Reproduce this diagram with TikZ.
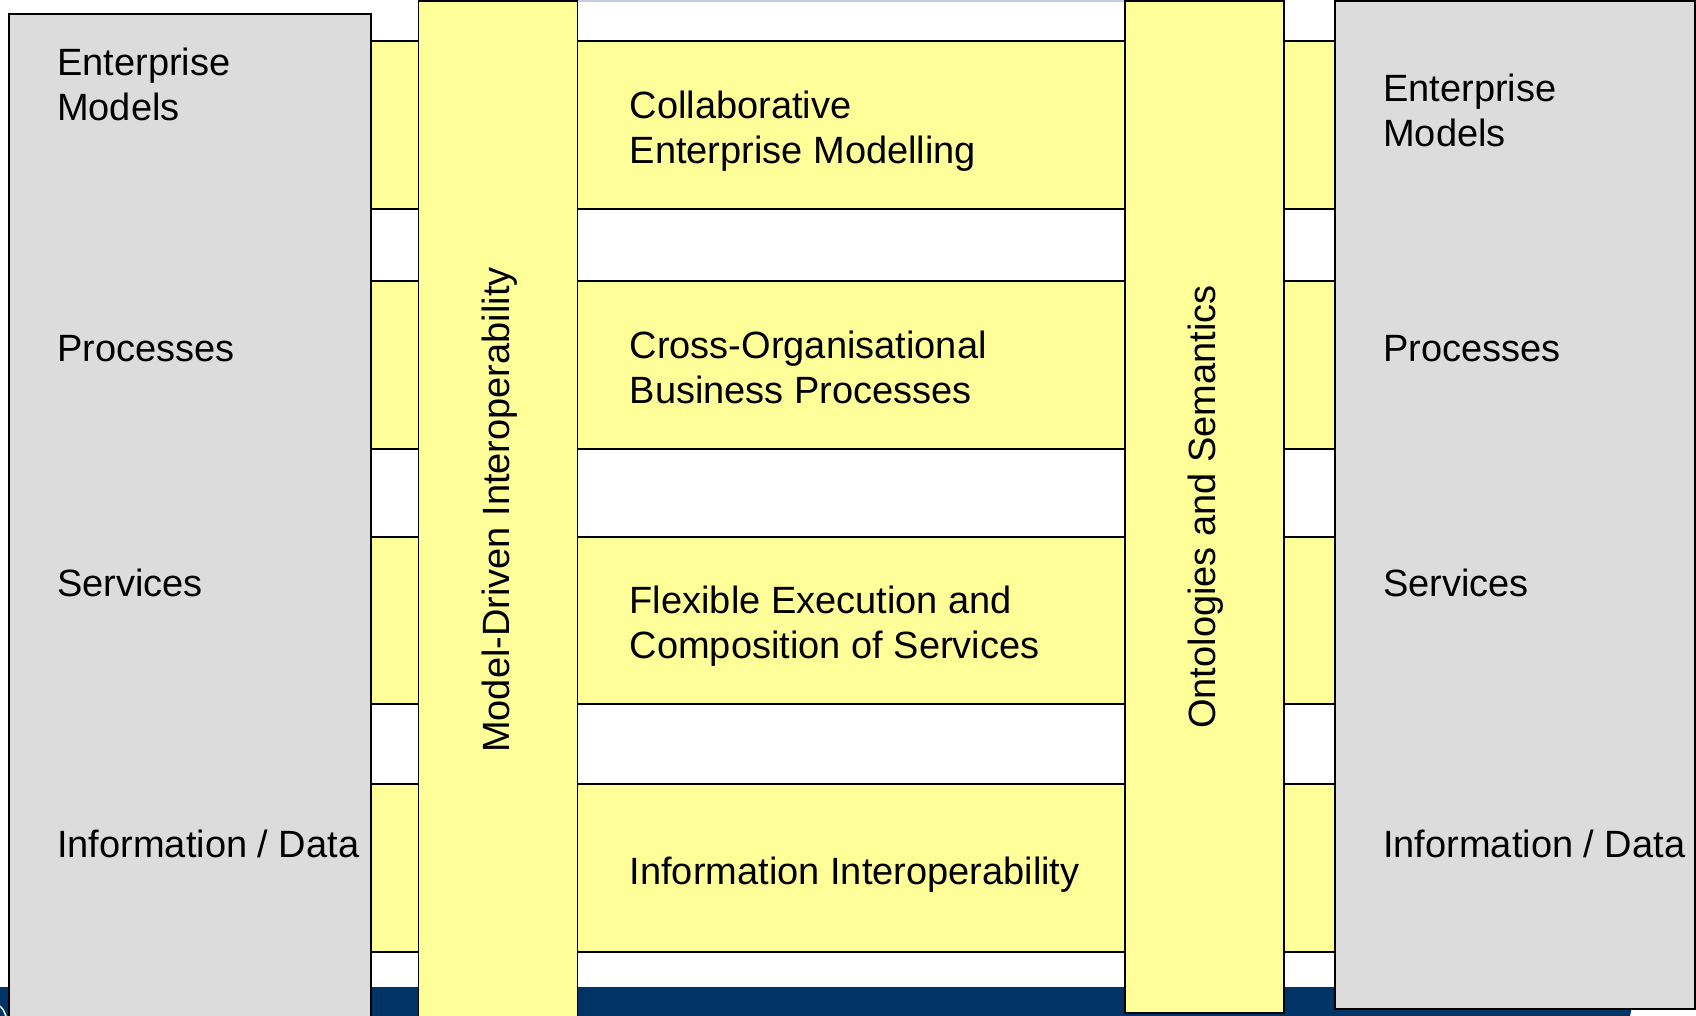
\documentclass[tikz,border=0pt]{standalone}
\usepackage{fontspec}
\setmainfont{Liberation Sans}
\begin{document}
\begin{tikzpicture}[x=1pt,y=-1pt,
  edge/.style={draw=black,line width=1.6pt},
  band/.style={edge,fill=bandyellow},
  pillar/.style={edge,fill=bandyellow},
  side/.style={edge,fill=sidegrey},
  lbl/.style={inner sep=0pt,anchor=base west,align=left,font=\fontsize{38}{45}\selectfont},
  vlbl/.style={inner sep=0pt,rotate=90,font=\fontsize{38}{45}\selectfont}]
\definecolor{bandyellow}{HTML}{FFFF99}
\definecolor{sidegrey}{HTML}{DCDCDC}
\definecolor{navy}{HTML}{003366}
\definecolor{rule}{HTML}{C5CDE0}
\useasboundingbox (0,0) rectangle (1696,1016);

% background strip and thin top rule
\fill[navy] (0,987) -- (1636,987) -- (1630,1016) -- (0,1016) -- cycle;
\draw[white,line width=1.5pt] (0,1006) .. controls (3,1009) .. (6,1016);
\draw[rule,line width=1.5pt] (567,0.8) -- (1127,0.8);

% horizontal layers
\draw[band] (371,41) rectangle (1335,209);
\draw[band] (371,281) rectangle (1335,449);
\draw[band] (371,537) rectangle (1335,704);
\draw[band] (371,784) rectangle (1335,952);

% vertical pillars
\draw[pillar] (418.5,0.8) rectangle (577.5,1030);
\draw[pillar] (1125,0.8) rectangle (1284,1013);

% enterprise blocks
\draw[side] (9,14) rectangle (371,1030);
\draw[side] (1335,1) rectangle (1695,1009);

% labels of the left block (base = last line)
\node[lbl] (l1) at (57,120.5) {Enterprise\\Models};
\node[lbl] (l2) at (57,361.5) {Processes};
\node[lbl] (l3) at (57,596.5) {Services};
\node[lbl] (l4) at (57,857) {Information / Data};

% labels of the right block
\node[lbl] (r1) at (1383,146.5) {Enterprise\\Models};
\node[lbl] (r2) at (1383,361.5) {Processes};
\node[lbl] (r3) at (1383,596.5) {Services};
\node[lbl] (r4) at (1383,857) {Information / Data};

% labels of the layers
\node[lbl] (c1) at (629.5,163.5) {Collaborative\\Enterprise Modelling};
\node[lbl] (c2) at (629.5,403.5) {Cross-Organisational\\Business Processes};
\node[lbl] (c3) at (629.5,658) {Flexible Execution and\\Composition of Services};
\node[lbl] (c4) at (629.5,884) {Information Interoperability};

% labels of the pillars
\node[vlbl] (v1) at (500,510) {Model-Driven Interoperability};
\node[vlbl] (v2) at (1206,507) {Ontologies and Semantics};
\end{tikzpicture}
\end{document}
